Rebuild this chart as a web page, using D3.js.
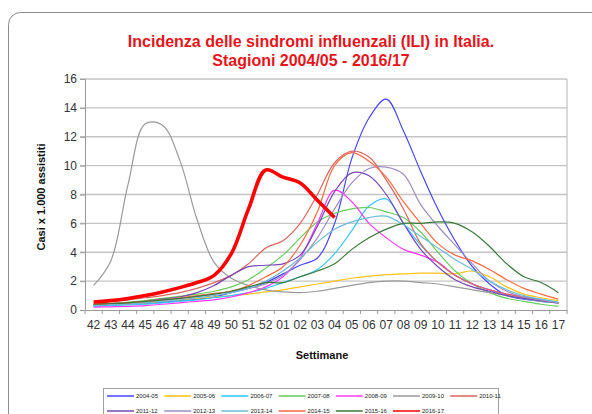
<!DOCTYPE html>
<html><head><meta charset="utf-8">
<script src="https://cdn.jsdelivr.net/npm/d3@7"></script>
<style>
html,body{margin:0;padding:0;background:#fff;}
svg{display:block;font-family:"Liberation Sans",Arial,sans-serif;}
</style></head>
<body><svg id="c" width="592" height="414"></svg>
<script>
const weeks = ["42","43","44","45","46","47","48","49","50","51","52","01","02","03","04","05","06","07","08","09","10","11","12","13","14","15","16","17"];
const yTicks = [0,2,4,6,8,10,12,14,16];
const seasons = ["2004-05","2005-06","2006-07","2007-08","2008-09","2009-10","2010-11","2011-12","2012-13","2013-14","2014-15","2015-16","2016-17"];
const colors = ["#4747ff","#ffc21a","#33c4ff","#66cc5c","#ff38ff","#9a9a9a","#d9665f","#7a47b8","#a08cc0","#6bbcd9","#ff6a40","#3a7a3a","#ff0000"];
const s2004 = [0.3,0.35,0.4,0.45,0.55,0.65,0.75,0.9,1.2,1.5,1.9,2.5,3.1,3.6,6.0,10.5,13.3,14.6,12.4,9.6,7.0,4.8,3.0,1.8,1.0,0.75,0.6,0.5];
const s2005 = [0.35,0.4,0.45,0.5,0.6,0.7,0.8,0.9,1.0,1.1,1.25,1.4,1.6,1.8,2.0,2.2,2.35,2.45,2.5,2.55,2.55,2.5,2.7,2.3,1.6,1.1,0.85,0.65];
const s2006 = [0.25,0.3,0.35,0.4,0.5,0.6,0.7,0.85,1.0,1.2,1.5,1.9,2.3,2.8,3.9,5.5,7.2,7.7,6.0,4.5,3.3,2.4,1.8,1.4,1.0,0.8,0.6,0.5];
const s2007 = [0.4,0.45,0.55,0.65,0.8,0.95,1.1,1.3,1.6,2.1,2.9,3.8,5.0,6.1,6.7,7.0,7.1,6.8,6.4,5.4,4.0,2.7,1.8,1.2,0.8,0.6,0.4,0.25];
const s2008 = [0.2,0.22,0.25,0.3,0.4,0.5,0.6,0.7,0.9,1.2,1.6,2.3,3.6,6.0,8.3,7.5,6.0,5.0,4.2,3.8,3.3,2.4,1.8,1.4,1.1,0.9,0.7,0.5];
const s2009 = [1.7,3.4,8.7,12.9,12.8,10.4,6.3,3.3,2.2,1.7,1.4,1.25,1.2,1.3,1.5,1.7,1.9,2.0,2.0,1.9,1.8,1.6,1.4,1.2,1.0,0.8,0.6,0.5];
const s2010 = [0.5,0.6,0.7,0.85,1.0,1.2,1.5,1.9,2.4,3.2,4.3,4.8,6.0,8.0,10.2,11.0,10.6,9.0,7.0,4.6,3.3,2.4,1.8,1.4,1.1,0.9,0.7,0.5];
const s2011 = [0.4,0.45,0.5,0.6,0.75,0.9,1.2,1.7,2.4,3.0,3.1,3.2,3.8,5.8,8.2,9.5,9.3,8.0,6.0,4.2,3.0,2.1,1.6,1.3,1.0,0.8,0.65,0.5];
const s2012 = [0.35,0.4,0.45,0.55,0.65,0.8,0.95,1.1,1.3,1.5,1.8,2.4,3.5,5.0,7.0,8.8,9.8,9.9,9.4,7.3,5.8,4.5,3.2,2.0,1.3,0.9,0.7,0.5];
const s2013 = [0.3,0.35,0.4,0.5,0.6,0.7,0.85,1.0,1.2,1.5,2.0,2.7,3.6,4.7,5.6,6.1,6.4,6.5,5.9,5.1,4.3,3.5,2.8,2.0,1.4,1.0,0.75,0.55];
const s2014 = [0.4,0.45,0.5,0.6,0.7,0.85,1.0,1.15,1.3,1.7,2.3,3.0,4.5,6.8,10.0,10.9,10.3,9.2,7.5,6.0,4.6,3.8,3.4,2.8,2.1,1.5,1.1,0.75];
const s2015 = [0.4,0.45,0.5,0.6,0.7,0.8,0.95,1.1,1.3,1.6,1.9,1.9,2.3,2.7,3.2,4.2,5.0,5.6,6.0,6.0,6.1,6.0,5.4,4.4,3.2,2.3,1.9,1.2];
const s2016 = [0.55,0.65,0.8,1.0,1.25,1.55,1.9,2.4,3.9,7.0,9.7,9.2,8.8,7.6,6.4];
const seriesValues = [s2004,s2005,s2006,s2007,s2008,s2009,s2010,s2011,s2012,s2013,s2014,s2015,s2016];

const svg = d3.select("#c");
// outer frame
svg.append("rect").attr("x",8.5).attr("y",12.5).attr("width",600).attr("height",420).attr("rx",12)
  .attr("fill","#fff").attr("stroke","#8c8c8c").attr("stroke-width",1);

const L=85, R=567, T=79, B=310;
const x = d3.scaleBand().domain(weeks).range([L,R]);
const y = d3.scaleLinear().domain([0,16]).range([B,T]);

// gridlines
svg.append("g").selectAll("line").data(yTicks.filter(d=>d>0)).join("line")
  .attr("x1",L-5).attr("x2",R).attr("y1",d=>y(d)).attr("y2",d=>y(d))
  .attr("stroke","#c4c4c4").attr("stroke-width",1.3);
// right border
svg.append("line").attr("x1",R).attr("x2",R).attr("y1",T).attr("y2",B).attr("stroke","#c4c4c4").attr("stroke-width",1.3);

// y axis
const ya = svg.append("g").attr("transform",`translate(${L},0)`)
  .call(d3.axisLeft(y).tickValues(yTicks).tickSize(5).tickPadding(3));
ya.select(".domain").attr("stroke","#9a9a9a");
ya.selectAll(".tick line").attr("stroke","#9a9a9a");
ya.selectAll("text").attr("font-size",12).attr("fill","#333").attr("font-family","Liberation Sans, Arial, sans-serif");

// x axis
const xa = svg.append("g").attr("transform",`translate(0,${B})`)
  .call(d3.axisBottom(x).tickSize(0).tickPadding(10));
xa.select(".domain").attr("stroke","#9a9a9a");
xa.selectAll("text").attr("font-size",12).attr("fill","#333").attr("font-family","Liberation Sans, Arial, sans-serif");
svg.append("g").selectAll("line").data(d3.range(weeks.length+1)).join("line")
  .attr("x1",i=>L+i*x.step()).attr("x2",i=>L+i*x.step()).attr("y1",B).attr("y2",B+4)
  .attr("stroke","#9a9a9a");

// axis titles
svg.append("text").attr("x",322).attr("y",359).attr("text-anchor","middle")
  .attr("font-size",11).attr("font-weight","bold").attr("fill","#111").text("Settimane");
svg.append("text").attr("transform","translate(45,197) rotate(-90)").attr("text-anchor","middle")
  .attr("font-size",11).attr("font-weight","bold").attr("fill","#111").text("Casi  x 1.000 assistiti");

// title
const title = svg.append("text").attr("text-anchor","middle").attr("fill","#e8141b")
  .attr("font-size",16).attr("font-weight","bold");
title.append("tspan").attr("x",311).attr("y",47).text("Incidenza delle sindromi influenzali (ILI) in Italia.");
title.append("tspan").attr("x",311).attr("y",66).text("Stagioni 2004/05 - 2016/17");

// lines
const line = d3.line().x((d,i)=>x(weeks[i])+x.bandwidth()/2).y(d=>y(d)).curve(d3.curveCatmullRom.alpha(0.5));
svg.append("g").selectAll("path").data(seriesValues).join("path")
  .attr("d",d=>line(d)).attr("fill","none")
  .attr("stroke",(d,i)=>colors[i])
  .attr("stroke-width",(d,i)=>i===12?3.6:1.2)
  .attr("stroke-linejoin","round");

// legend
const lg = svg.append("g");
lg.append("rect").attr("x",103.5).attr("y",388.5).attr("width",395).attr("height",40)
  .attr("fill","#fff").attr("stroke","#a0a0a0");
seasons.forEach((s,i)=>{
  const col=i%7, row=Math.floor(i/7);
  const lx=107+col*57.2, ly=396+row*15;
  lg.append("line").attr("x1",lx).attr("x2",lx+27).attr("y1",ly).attr("y2",ly)
    .attr("stroke",colors[i]).attr("stroke-width",1.5);
  lg.append("text").attr("x",lx+29).attr("y",ly+2).attr("font-size",6).attr("fill","#222").text(s);
});
</script></body></html>
